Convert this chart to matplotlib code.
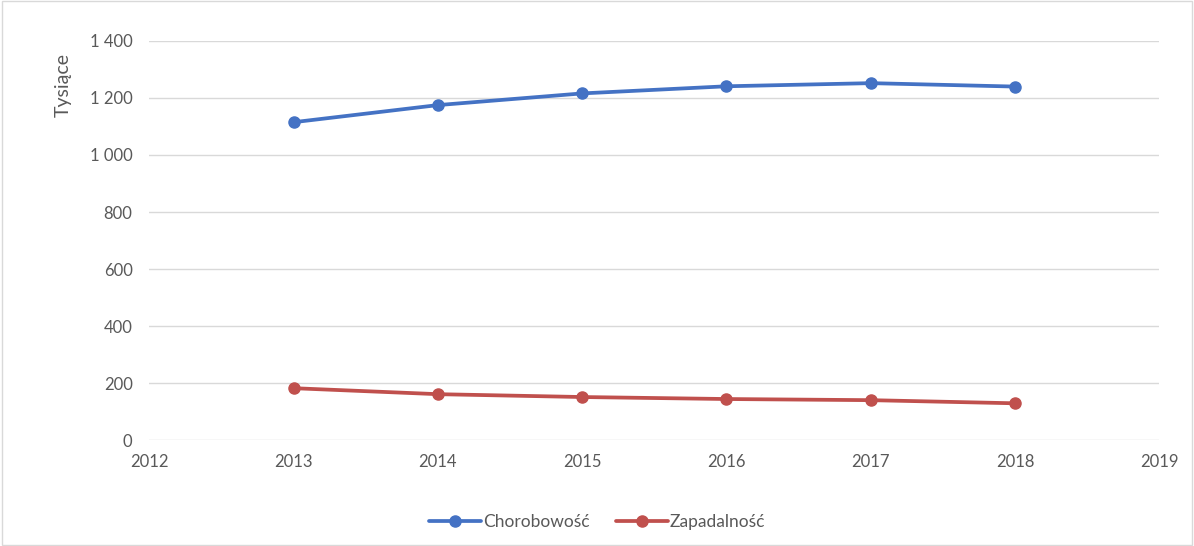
import matplotlib
matplotlib.use("Agg")
import matplotlib.pyplot as plt
from matplotlib.ticker import FuncFormatter

years = [2013, 2014, 2015, 2016, 2017, 2018]
chorobowosc = [1115, 1175, 1216, 1241, 1252, 1240]
zapadalnosc = [182, 161, 151, 144, 140, 129]

plt.rcParams['font.family'] = ['Lato', 'DejaVu Sans']
txt = '#595959'

fig = plt.figure(figsize=(11.94, 5.46), dpi=100)
ax = fig.add_axes([0.125, 0.194, 0.846, 0.731])

ax.plot(years, chorobowosc, color='#4472C4', lw=2.7, marker='o', ms=8,
        label='Chorobowość', solid_capstyle='round')
ax.plot(years, zapadalnosc, color='#C0504D', lw=2.7, marker='o', ms=8,
        label='Zapadalność', solid_capstyle='round')

ax.set_xlim(2012, 2019)
ax.set_ylim(0, 1400)
ax.set_yticks(range(0, 1401, 200))
ax.set_xticks(range(2012, 2020))
ax.yaxis.set_major_formatter(FuncFormatter(lambda v, p: f'{int(v):,}'.replace(',', ' ')))
ax.grid(axis='y', color='#D9D9D9', lw=1)
ax.set_axisbelow(True)
for s in ax.spines.values():
    s.set_visible(False)
ax.tick_params(length=0, labelsize=12, colors=txt, pad=10)
ax.tick_params(axis='y', pad=12)
ax.set_ylabel('Tysiące', fontsize=14, color=txt)
ax.yaxis.set_label_coords(-0.077, 0.89)

fig.legend(loc='lower center', bbox_to_anchor=(0.5, 0.0), ncol=2, frameon=False,
           fontsize=12.5, labelcolor=txt, handlelength=3.0, handletextpad=0.1,
           columnspacing=1.5)

fig.patches.append(plt.Rectangle((0.002, 0.002), 0.996, 0.996, transform=fig.transFigure,
                                 fill=False, edgecolor='#D9D9D9', lw=1))

fig.savefig('out.png', dpi=100)
